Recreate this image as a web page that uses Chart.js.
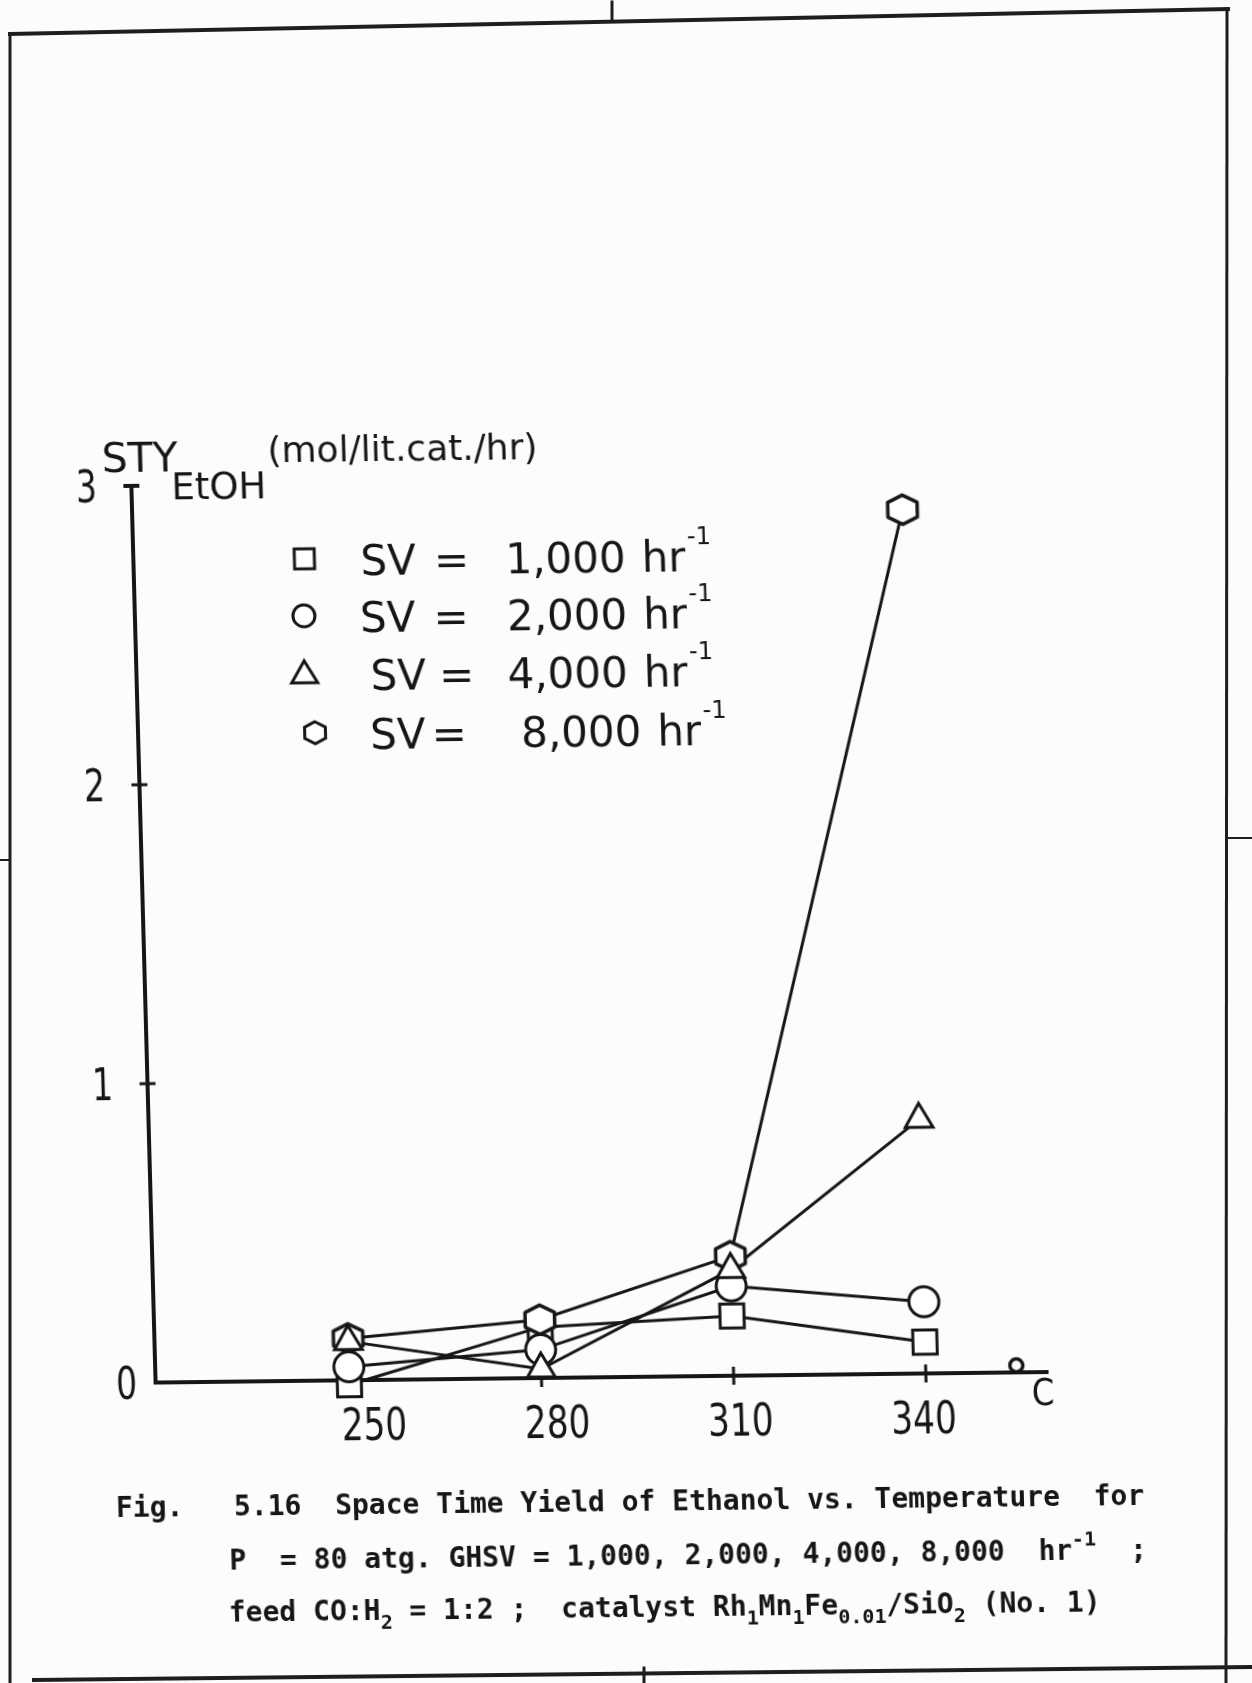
<!DOCTYPE html>
<html>
<head>
<meta charset="utf-8">
<script src="https://cdn.jsdelivr.net/npm/chart.js@4.4.1/dist/chart.umd.min.js"></script>
<style>
  html, body { margin: 0; padding: 0; background: #fcfcfc; overflow: hidden; }
  #page { position: relative; width: 1252px; height: 1683px; background: #fcfcfc; }
  #frame { position: absolute; left: 0; top: 0; }
  /* the sheet sits slightly askew */
  #plot { position: absolute; left: 0; top: 0; width: 1252px; height: 1683px;
          transform: matrix(0.9998, -0.0118, 0.0270, 0.9996, 0, 0); transform-origin: 626px 841px; }
</style>
</head>
<body>
<div id="page">
  <canvas id="frame" width="1252" height="1683"></canvas>
  <div id="plot"><canvas id="chart" width="1252" height="1683"></canvas></div>
</div>
<script>
// Reaction temperature (°C) and ethanol space-time yield (mol / lit.cat. / hr)
const temperatures = [250, 280, 310, 340];
const sty1000 = [-0.015, 0.17, 0.20, 0.105];
const sty2000 = [0.045, 0.095, 0.30, 0.24];
const sty4000 = [0.13, 0.03, 0.355, 0.85];
const sty8000 = [0.14, 0.195, 0.40, 2.89];
const svLabels = ['1,000', '2,000', '4,000', '8,000'];
const xTickValues = [250, 280, 310, 340];
const yTickValues = [0, 1, 2, 3];

const INK = '#161616';
const SANS = '"DejaVu Sans", sans-serif';
const MONO = '"DejaVu Sans Mono", "Liberation Mono", monospace';

// Hexagon marker (not a built-in point style) rendered once to a small canvas
function hexagonMarker(r, lw, squash) {
  const size = Math.ceil(2 * r + lw + 6);
  const c = document.createElement('canvas');
  c.width = size; c.height = size;
  const g = c.getContext('2d');
  g.translate(size / 2, size / 2);
  g.beginPath();
  for (let i = 0; i < 6; i++) {
    const a = -Math.PI / 2 + i * Math.PI / 3;
    const px = r * Math.cos(a), py = r * squash * Math.sin(a);
    if (i === 0) g.moveTo(px, py); else g.lineTo(px, py);
  }
  g.closePath();
  g.fillStyle = '#ffffff'; g.fill();
  g.lineWidth = lw; g.strokeStyle = INK; g.lineJoin = 'round'; g.stroke();
  return c;
}
const hexPoint = hexagonMarker(17, 3.5, 0.86);

function toXY(values) { return temperatures.map((t, i) => ({ x: t, y: values[i] })); }

const series = [
  { data: sty1000, style: 'rect', radius: 17, drawOrder: 1.4 },
  { data: sty2000, style: 'circle', radius: 15, drawOrder: 1.2 },
  { data: sty4000, style: 'triangle', radius: 16, drawOrder: 1.1 },
  { data: sty8000, style: hexPoint, radius: 17, drawOrder: 1.3 }
];

// connecting lines first, markers afterwards so every marker sits on top of the lines
const lineSets = series.map(s => ({
  data: toXY(s.data), borderColor: INK, borderWidth: 3, pointRadius: 0,
  showLine: true, tension: 0, clip: false, order: 5
}));
const pointSets = series.map(s => ({
  data: toXY(s.data), showLine: false, pointStyle: s.style, pointRadius: s.radius,
  pointBorderWidth: 3, pointBorderColor: INK, pointBackgroundColor: '#ffffff',
  clip: false, order: s.drawOrder
}));

function capText(ctx, text, x, cy, size, align, sx, weight) {
  ctx.save();
  ctx.font = (weight || 'normal') + ' ' + size + 'px ' + SANS;
  ctx.textAlign = align; ctx.textBaseline = 'alphabetic';
  ctx.translate(x, cy + size * 0.729 / 2);
  ctx.scale(sx, 1);
  ctx.fillText(text, 0, 0);
  ctx.restore();
}

function richText(ctx, x, y, parts, size, family, weight) {
  let cx = x;
  for (const p of parts) {
    const s = (p.sub || p.sup) ? Math.round(size * 0.72) : size;
    ctx.font = weight + ' ' + s + 'px ' + family;
    const dy = p.sub ? size * 0.32 : (p.sup ? -size * 0.5 : 0);
    ctx.fillText(p.t, cx, y + dy);
    cx += ctx.measureText(p.t).width;
  }
  return cx;
}

// tick marks that cross the axes
const axisTicks = {
  id: 'axisTicks',
  beforeDatasetsDraw(chart) {
    const ctx = chart.ctx, xs = chart.scales.x, ys = chart.scales.y;
    const y0 = ys.getPixelForValue(0), ax = xs.getPixelForValue(xs.min);
    ctx.save();
    ctx.strokeStyle = INK; ctx.lineWidth = 3;
    xTickValues.forEach(v => {
      const px = xs.getPixelForValue(v);
      ctx.beginPath(); ctx.moveTo(px, y0 - 9); ctx.lineTo(px, y0 + 9); ctx.stroke();
    });
    yTickValues.filter(v => v > 0).forEach(v => {
      const py = ys.getPixelForValue(v);
      ctx.lineWidth = v === ys.max ? 4 : 3;
      ctx.beginPath(); ctx.moveTo(ax - 8, py); ctx.lineTo(ax + 8, py); ctx.stroke();
    });
    ctx.restore();
  }
};

// axis numbers, axis titles, key and figure caption
const annotations = {
  id: 'annotations',
  afterDraw(chart) {
    const ctx = chart.ctx, xs = chart.scales.x, ys = chart.scales.y, ca = chart.chartArea;
    const y0 = ys.getPixelForValue(0);
    ctx.save();
    ctx.fillStyle = INK; ctx.strokeStyle = INK;

    // tick labels (hand lettered, drifting slightly from the tick marks)
    xTickValues.forEach(v => {
      const lx = xs.getPixelForValue(v) + 24 - (v - xTickValues[0]) * 0.3;
      capText(ctx, String(v), lx, y0 + 44, 44, 'center', 0.78);
    });
    yTickValues.forEach(v => {
      const off = v === 0 ? 29 : 45;
      capText(ctx, String(v), ca.left - off, ys.getPixelForValue(v), 44, 'center', 0.75);
    });

    // temperature unit at the end of the x axis
    ctx.lineWidth = 3.5;
    ctx.beginPath(); ctx.arc(ca.right - 31, y0 - 7, 6.5, 0, Math.PI * 2); ctx.stroke();
    capText(ctx, 'C', ca.right - 5, y0 + 19, 38, 'center', 0.85);

    // y axis title
    ctx.textAlign = 'left'; ctx.textBaseline = 'alphabetic';
    ctx.font = '41px ' + SANS; ctx.fillText('STY', ca.left - 29, ca.top - 14);
    ctx.font = '37px ' + SANS; ctx.fillText('EtOH', ca.left + 40, ca.top + 14);
    ctx.font = '36px ' + SANS; ctx.fillText('(mol/lit.cat./hr)', ca.left + 137, ca.top - 22);

    // key
    const rows = [557, 614, 672, 731];
    const keyCols = [
      { mark: 312, sv: 368, eq: 459, num: 513 },
      { mark: 310, sv: 366, eq: 457, num: 513 },
      { mark: 309, sv: 375, eq: 461, num: 512 },
      { mark: 318, sv: 373, eq: 452, num: 524 }
    ];
    rows.forEach((cy, i) => {
      const k = keyCols[i];
      ctx.lineWidth = 3; ctx.fillStyle = '#ffffff';
      ctx.beginPath();
      if (i === 0) { ctx.rect(k.mark - 10, cy - 12, 20, 20); }
      else if (i === 1) { ctx.arc(k.mark, cy - 2, 11, 0, Math.PI * 2); }
      else if (i === 2) {
        ctx.moveTo(k.mark, cy - 15); ctx.lineTo(k.mark + 13, cy + 7); ctx.lineTo(k.mark - 13, cy + 7); ctx.closePath();
      } else {
        for (let j = 0; j < 6; j++) {
          const a = -Math.PI / 2 + j * Math.PI / 3;
          const px = k.mark + 12 * Math.cos(a), py = cy - 2 + 11 * Math.sin(a);
          if (j === 0) ctx.moveTo(px, py); else ctx.lineTo(px, py);
        }
        ctx.closePath();
      }
      ctx.fill(); ctx.stroke();
      ctx.fillStyle = INK;
      const base = cy + 15;
      ctx.textAlign = 'left';
      ctx.font = '42px ' + SANS;
      ctx.fillText('SV', k.sv, base);
      ctx.textAlign = 'center';
      ctx.fillText('=', k.eq, base);
      ctx.textAlign = 'left';
      ctx.fillText(svLabels[i], k.num, base);
      const hrX = k.num + ctx.measureText(svLabels[i]).width + 16;
      ctx.fillText('hr', hrX, base);
      const supX = hrX + ctx.measureText('hr').width + 2;
      ctx.font = '24px ' + SANS;
      ctx.fillText('-1', supX, cy - 12);
    });

    // caption
    ctx.fillStyle = INK; ctx.textAlign = 'left';
    richText(ctx, 98, 1511, [{ t: 'Fig.   5.16  Space Time Yield of Ethanol vs. Temperature  for' }], 28, MONO, 'bold');
    richText(ctx, 210, 1565, [
      { t: 'P  = 80 atg. GHSV = 1,000, 2,000, 4,000, 8,000  hr' }, { t: '-1', sup: true }, { t: '  ;' }
    ], 28, MONO, 'bold');
    richText(ctx, 208, 1617, [
      { t: 'feed CO:H' }, { t: '2', sub: true }, { t: ' = 1:2 ;  catalyst Rh' }, { t: '1', sub: true },
      { t: 'Mn' }, { t: '1', sub: true }, { t: 'Fe' }, { t: '0.01', sub: true }, { t: '/SiO' },
      { t: '2', sub: true }, { t: ' (No. 1)' }
    ], 28, MONO, 'bold');
    ctx.restore();
  }
};

new Chart(document.getElementById('chart'), {
  type: 'scatter',
  data: { datasets: lineSets.concat(pointSets) },
  options: {
    responsive: false,
    animation: false,
    layout: { padding: { left: 141, top: 480, right: 219, bottom: 306 } },
    plugins: { legend: { display: false }, tooltip: { enabled: false } },
    scales: {
      x: {
        type: 'linear', min: 219.77, max: 359.0,
        grid: { display: false, drawTicks: false },
        border: { display: true, width: 4, color: INK },
        ticks: { display: false }
      },
      y: {
        type: 'linear', min: 0, max: 3,
        grid: { display: false, drawTicks: false },
        border: { display: true, width: 4, color: INK },
        ticks: { display: false }
      }
    }
  },
  plugins: [axisTicks, annotations]
});

// page border of the sheet
(function drawFrame() {
  const g = document.getElementById('frame').getContext('2d');
  g.strokeStyle = '#1e1e1e'; g.lineCap = 'square';
  const seg = (x1, y1, x2, y2, w) => { g.lineWidth = w; g.beginPath(); g.moveTo(x1, y1); g.lineTo(x2, y2); g.stroke(); };
  seg(10, 34, 1228, 9, 4);
  seg(612, 2, 612, 19, 3);
  seg(10, 34, 10, 1683, 3);
  seg(1227, 9, 1226, 1683, 3);
  seg(1226, 838, 1252, 838, 2);
  seg(0, 860, 10, 860, 2);
  seg(34, 1680, 1252, 1667, 4);
  seg(644, 1668, 644, 1683, 3);
})();
</script>
